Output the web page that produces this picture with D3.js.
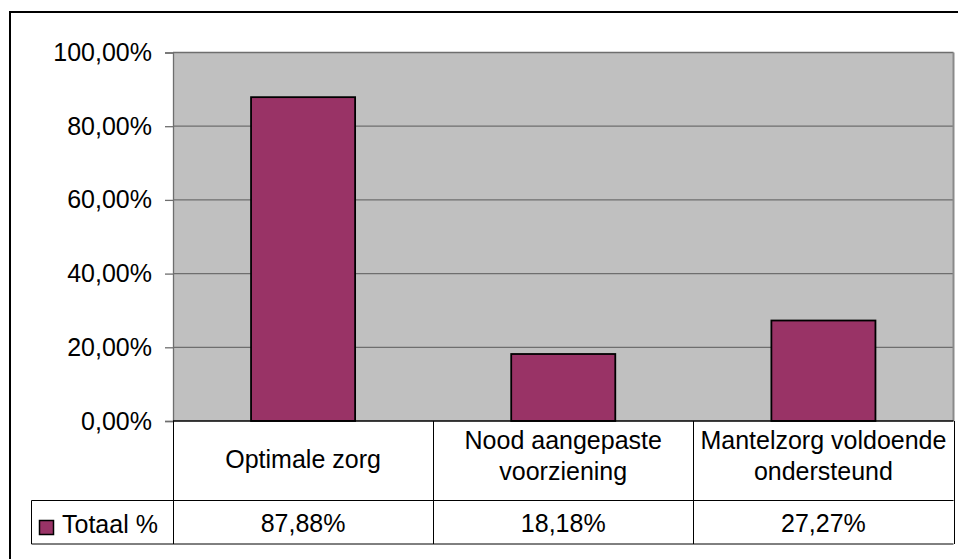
<!DOCTYPE html>
<html>
<head>
<meta charset="utf-8">
<script src="https://cdn.jsdelivr.net/npm/d3@7"></script>
<style>
  html, body { margin: 0; padding: 0; background: #fff; }
  svg { display: block; }
  text { font-family: "Liberation Sans", Arial, sans-serif; fill: #000; }
</style>
</head>
<body>
<svg id="chart" width="958" height="559"></svg>
<script>
// Chart data
const categories = ["Optimale zorg", "Nood aangepaste voorziening", "Mantelzorg voldoende ondersteund"];
const categoryLines = [["Optimale zorg"], ["Nood aangepaste", "voorziening"], ["Mantelzorg voldoende", "ondersteund"]];
const seriesName = "Totaal %";
const values = [0.8788, 0.1818, 0.2727];
const tickValues = [0, 0.2, 0.4, 0.6, 0.8, 1.0];

const fmtPct = v => d3.format(".2f")(v * 100).replace(".", ",") + "%";

const svg = d3.select("#chart");
const W = 958, H = 559;
const plot = { left: 173, right: 953.5, top: 52.5, bottom: 421 };
const table = { legendLeft: 31.5, catBottom: 500.5, valBottom: 544 };
const fontSize = 25;

// Outer chart frame (runs past the right and bottom edges)
svg.append("rect")
  .attr("x", 10).attr("y", 12)
  .attr("width", W + 20).attr("height", H + 20)
  .attr("fill", "#fff").attr("stroke", "#000").attr("stroke-width", 2);

const x = d3.scaleBand().domain(categories).range([plot.left, plot.right]).padding(0);
const xBar = d3.scaleBand().domain(categories).range([plot.left, plot.right])
  .paddingInner(0.6).paddingOuter(0.3);
const y = d3.scaleLinear().domain([0, 1]).range([plot.bottom, plot.top]);

// Plot background
svg.append("rect")
  .attr("x", plot.left).attr("y", plot.top)
  .attr("width", plot.right - plot.left).attr("height", plot.bottom - plot.top)
  .attr("fill", "#c0c0c0");

// Gridlines
svg.append("g").selectAll("line").data(tickValues.filter(d => d > 0)).join("line")
  .attr("x1", plot.left).attr("x2", plot.right)
  .attr("y1", d => y(d)).attr("y2", d => y(d))
  .attr("stroke", "#6e6e6e").attr("stroke-width", 1.3);

// Right edge of plot area
svg.append("line")
  .attr("x1", plot.right).attr("x2", plot.right)
  .attr("y1", plot.top).attr("y2", plot.bottom)
  .attr("stroke", "#8a8a8a").attr("stroke-width", 2);

// Bars
svg.append("g").selectAll("rect").data(categories).join("rect")
  .attr("x", d => xBar(d))
  .attr("y", (d, i) => y(values[i]))
  .attr("width", xBar.bandwidth())
  .attr("height", (d, i) => plot.bottom - y(values[i]))
  .attr("fill", "#993366")
  .attr("stroke", "#000").attr("stroke-width", 1.8);

// Y axis
const yAxis = d3.axisLeft(y).tickValues(tickValues).tickFormat(fmtPct)
  .tickSize(8).tickPadding(13);
const gy = svg.append("g").attr("transform", `translate(${plot.left},0)`).call(yAxis);
gy.select(".domain").attr("stroke", "#6e6e6e").attr("stroke-width", 1.3);
gy.selectAll(".tick line").attr("stroke", "#6e6e6e").attr("stroke-width", 1.3);
gy.selectAll(".tick text")
  .attr("font-size", fontSize).attr("font-family", "Liberation Sans, Arial, sans-serif")
  .attr("fill", "#000").attr("dy", "0.32em");

// Data table
const tg = svg.append("g").attr("stroke", "#000").attr("stroke-width", 1);
// horizontal lines
tg.append("line").attr("x1", plot.left).attr("x2", plot.right)
  .attr("y1", plot.bottom).attr("y2", plot.bottom).attr("stroke-width", 1.5);
tg.append("line").attr("x1", table.legendLeft).attr("x2", plot.right)
  .attr("y1", table.catBottom).attr("y2", table.catBottom);
tg.append("line").attr("x1", table.legendLeft).attr("x2", plot.right)
  .attr("y1", table.valBottom).attr("y2", table.valBottom);
// vertical lines
const colEdges = categories.map(c => x(c)).concat([plot.right]);
tg.selectAll("line.col").data(colEdges).join("line").attr("class", "col")
  .attr("x1", d => Math.round(d) + 0.5).attr("x2", d => Math.round(d) + 0.5)
  .attr("y1", plot.bottom).attr("y2", table.valBottom);
tg.append("line").attr("x1", table.legendLeft).attr("x2", table.legendLeft)
  .attr("y1", table.catBottom).attr("y2", table.valBottom);

// Category labels
const catG = svg.append("g");
categoryLines.forEach((lines, i) => {
  const cx = x(categories[i]) + x.bandwidth() / 2;
  const baseY = lines.length === 1 ? 468 : 449;
  lines.forEach((ln, j) => {
    catG.append("text")
      .attr("x", cx).attr("y", baseY + j * 30.5)
      .attr("text-anchor", "middle").attr("font-size", fontSize)
      .text(ln);
  });
});

// Value row
svg.append("g").selectAll("text").data(categories).join("text")
  .attr("x", d => x(d) + x.bandwidth() / 2)
  .attr("y", 532)
  .attr("text-anchor", "middle").attr("font-size", fontSize)
  .text((d, i) => fmtPct(values[i]));

// Legend key
svg.append("rect")
  .attr("x", 39.5).attr("y", 520.5).attr("width", 14).attr("height", 14)
  .attr("fill", "#993366").attr("stroke", "#000").attr("stroke-width", 1.5);
svg.append("text")
  .attr("x", 62).attr("y", 533).attr("font-size", fontSize)
  .text(seriesName);
</script>
</body>
</html>
